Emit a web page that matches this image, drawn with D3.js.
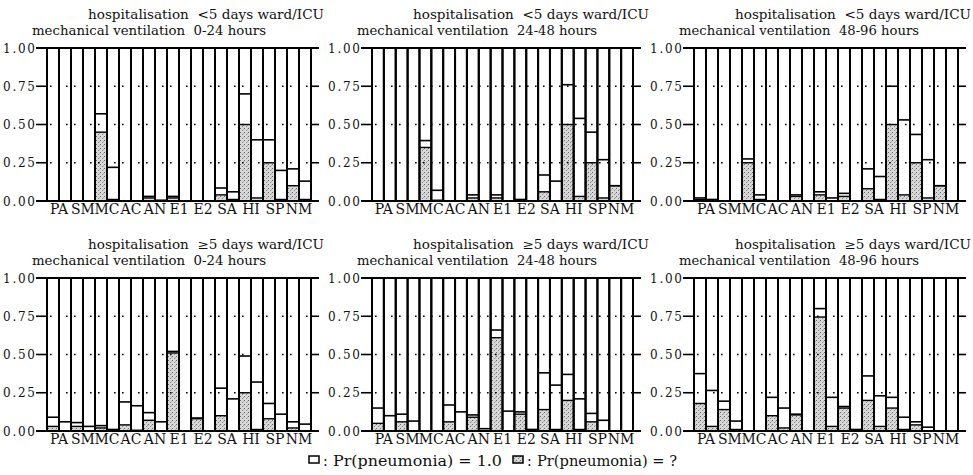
<!DOCTYPE html>
<html lang="en">
<head>
    <meta charset="UTF-8">
    <title>Pneumonia probabilities</title>
    <style>
        body {
            margin: 0;
            background-color: #ffffff;
        }
        svg text {
            font-family: 'DejaVu Serif', serif;
            fill: #111;
        }
    </style>
</head>
<body>
    <div id="chart"></div>

    <script src="https://d3js.org/d3.v7.min.js"></script>
    <script>
        // categories, two bars each
        const categories = ["PA", "SM", "MC", "AC", "AN", "E1", "E2", "SA", "HI", "SP", "NM"];
        const yTicks = [0, 0.25, 0.5, 0.75, 1];
        const yTickLabels = ["0.00", "0.25", "0.50", "0.75", "1.00"];

        const stayLabels = ["<5", "\u22655"];
        const ventLabels = ["0-24", "24-48", "48-96"];

        // stippled part (Pr = ?) and top of the white box (Pr = 1.0), read per bar
        const grey1 = [0, 0, 0, 0, .45, .01, 0, 0, .02, 0, .02, 0, 0, 0, .04, .01, .50, .02, .25, .01, .10, .01];
        const top1  = [0, 0, 0, 0, .57, .22, 0, 0, .03, .005, .03, 0, 0, 0, .085, .06, .70, .40, .40, .20, .21, .13];

        const grey2 = [0, 0, 0, 0, .35, .005, 0, 0, .02, 0, .02, 0, 0, 0, .06, 0, .50, .03, .25, .02, .10, 0];
        const top2  = [0, 0, 0, 0, .395, .07, 0, 0, .04, 0, .04, 0, .01, 0, .17, .13, .76, .54, .45, .27, .10, 0];

        const grey3 = [.01, 0, 0, 0, .25, .01, 0, 0, .03, 0, .04, 0, .03, 0, .08, .01, .50, .04, .25, .02, .10, 0];
        const top3  = [.02, .01, 0, 0, .275, .04, 0, 0, .04, 0, .06, .02, .05, 0, .21, .16, .75, .53, .435, .27, .10, 0];

        const grey4 = [.03, 0, .03, 0, .02, 0, .04, .005, .07, 0, .51, 0, .08, 0, .10, 0, .25, .01, .08, 0, .02, 0];
        const top4  = [.09, .06, .055, .03, .035, .01, .19, .165, .12, .06, .52, 0, .085, 0, .28, .21, .49, .32, .18, .11, .06, .045];

        const grey5 = [.05, 0, .06, 0, 0, 0, .06, 0, .09, 0, .61, 0, .11, 0, .14, .01, .20, .01, .06, 0, 0, 0];
        const top5  = [.15, .10, .11, .065, 0, 0, .17, .125, .105, .015, .66, .13, .125, .01, .38, .30, .37, .21, .115, .07, 0, 0];

        const grey6 = [.18, .03, .14, .01, 0, 0, .10, .02, .105, 0, .745, .03, .15, 0, .20, .03, .15, .01, .04, 0, 0, 0];
        const top6  = [.375, .265, .195, .065, 0, 0, .22, .15, .11, 0, .80, .22, .16, .01, .36, .23, .22, .09, .06, .025, 0, 0];

        const greys = [grey1, grey2, grey3, grey4, grey5, grey6];
        const tops = [top1, top2, top3, top4, top5, top6];

        const width = 973, height = 475;
        const colStart = [47, 372, 694];
        const colEnd = [311, 633, 958];
        const rowTop = [48, 278];
        const rowBottom = [201, 431];

        const svg = d3.select("#chart").append("svg")
            .attr("width", width)
            .attr("height", height);

        // stipple fill
        const pat = svg.append("defs").append("pattern")
            .attr("id", "stipple")
            .attr("patternUnits", "userSpaceOnUse")
            .attr("width", 4).attr("height", 4);
        pat.append("rect").attr("width", 4).attr("height", 4).attr("fill", "#d8d8d8");
        pat.append("rect").attr("x", 0).attr("y", 0).attr("width", 1).attr("height", 1).attr("fill", "#666");
        pat.append("rect").attr("x", 2).attr("y", 2).attr("width", 1).attr("height", 1).attr("fill", "#888");
        pat.append("rect").attr("x", 3).attr("y", 1).attr("width", 1).attr("height", 1).attr("fill", "#aaa");

        const barKeys = d3.range(categories.length * 2);

        for (let p = 0; p < 6; p++) {
            const row = Math.floor(p / 3), col = p % 3;
            const x0 = colStart[col], x1 = colEnd[col];

            const x = d3.scaleBand().domain(barKeys).range([x0, x1]).padding(0);
            const y = d3.scaleLinear().domain([0, 1]).range([rowBottom[row], rowTop[row]]);
            const g = svg.append("g");

            const bars = barKeys.map(i => ({ i: i, grey: greys[p][i], top: tops[p][i] }));

            // titles
            g.append("text")
                .attr("x", x0 + 41)
                .attr("y", rowTop[row] - 29)
                .attr("font-size", 12.5)
                .attr("textLength", 236)
                .attr("lengthAdjust", "spacingAndGlyphs")
                .style("white-space", "pre")
                .text("hospitalisation  " + stayLabels[row] + " days ward/ICU");
            g.append("text")
                .attr("x", x0 - 15)
                .attr("y", rowTop[row] - 13)
                .attr("font-size", 12.5)
                .attr("textLength", ventLabels[p % 3] == "0-24" ? 234 : 240)
                .attr("lengthAdjust", "spacingAndGlyphs")
                .style("white-space", "pre")
                .text("mechanical ventilation  " + ventLabels[p % 3] + " hours");

            // y ticks
            yTicks.forEach((t, k) => {
                const yy = y(t);
                g.append("text")
                    .attr("x", x0 - 44)
                    .attr("y", yy + 4.5)
                    .attr("font-size", 12)
                    .attr("textLength", 32)
                    .attr("lengthAdjust", "spacing")
                    .text(yTickLabels[k]);
                if (t == 0 || t == 1) {
                    g.append("line")
                        .attr("x1", x0 - 11).attr("x2", x1 + 8)
                        .attr("y1", yy).attr("y2", yy)
                        .attr("stroke", "#000").attr("stroke-width", 2.2);
                } else {
                    g.append("line")
                        .attr("x1", x0 - 11).attr("x2", x0)
                        .attr("y1", yy).attr("y2", yy)
                        .attr("stroke", "#000").attr("stroke-width", 1.6);
                    g.append("line")
                        .attr("x1", x1).attr("x2", x1 + 8)
                        .attr("y1", yy).attr("y2", yy)
                        .attr("stroke", "#000").attr("stroke-width", 1.6);
                }
            });

            // stippled part
            g.selectAll(".grey").data(bars.filter(d => d.grey > 0)).enter().append("rect")
                .attr("x", d => x(d.i))
                .attr("width", x.bandwidth())
                .attr("y", d => y(d.grey))
                .attr("height", d => y(0) - y(d.grey))
                .attr("fill", "url(#stipple)");

            // dotted grid lines
            [0.25, 0.5, 0.75].forEach(t => {
                g.append("line")
                    .attr("x1", x0 + 3).attr("x2", x1)
                    .attr("y1", y(t)).attr("y2", y(t))
                    .attr("stroke", "#000").attr("stroke-width", 1.6)
                    .attr("stroke-dasharray", "1.6,6.4");
            });

            // horizontal lines at the top of each part
            g.selectAll(".gline").data(bars.filter(d => d.grey > 0)).enter().append("line")
                .attr("x1", d => x(d.i)).attr("x2", d => x(d.i) + x.bandwidth())
                .attr("y1", d => y(d.grey)).attr("y2", d => y(d.grey))
                .attr("stroke", "#000").attr("stroke-width", 1.4);
            g.selectAll(".tline").data(bars.filter(d => d.top > 0)).enter().append("line")
                .attr("x1", d => x(d.i)).attr("x2", d => x(d.i) + x.bandwidth())
                .attr("y1", d => y(d.top)).attr("y2", d => y(d.top))
                .attr("stroke", "#000").attr("stroke-width", 1.6);

            // full height bar frames
            g.selectAll(".frame").data(bars).enter().append("rect")
                .attr("x", d => x(d.i))
                .attr("width", x.bandwidth())
                .attr("y", y(1))
                .attr("height", y(0) - y(1))
                .attr("fill", "none")
                .attr("stroke", "#000")
                .attr("stroke-width", 2);

            // category labels under each pair
            g.selectAll(".cat").data(categories).enter().append("text")
                .attr("x", (d, k) => x(2 * k) + x.bandwidth())
                .attr("y", rowBottom[row] + 13)
                .attr("font-size", 14)
                .attr("text-anchor", "middle")
                .text(d => d);
        }

        // legend
        const leg = svg.append("g");
        leg.append("rect").attr("x", 309).attr("y", 456).attr("width", 10).attr("height", 7)
            .attr("fill", "#fff").attr("stroke", "#000").attr("stroke-width", 1.5);
        leg.append("text").attr("x", 323).attr("y", 466).attr("font-size", 14).text(":");
        leg.append("text").attr("x", 333).attr("y", 466).attr("font-size", 14)
            .attr("textLength", 169).attr("lengthAdjust", "spacingAndGlyphs")
            .text("Pr(pneumonia) = 1.0");
        leg.append("rect").attr("x", 513).attr("y", 456).attr("width", 10).attr("height", 7)
            .attr("fill", "url(#stipple)").attr("stroke", "#000").attr("stroke-width", 1.5);
        leg.append("text").attr("x", 527).attr("y", 466).attr("font-size", 14).text(":");
        leg.append("text").attr("x", 537).attr("y", 466).attr("font-size", 14)
            .attr("textLength", 140).attr("lengthAdjust", "spacingAndGlyphs")
            .text("Pr(pneumonia) = ?");
    </script>
</body>
</html>
